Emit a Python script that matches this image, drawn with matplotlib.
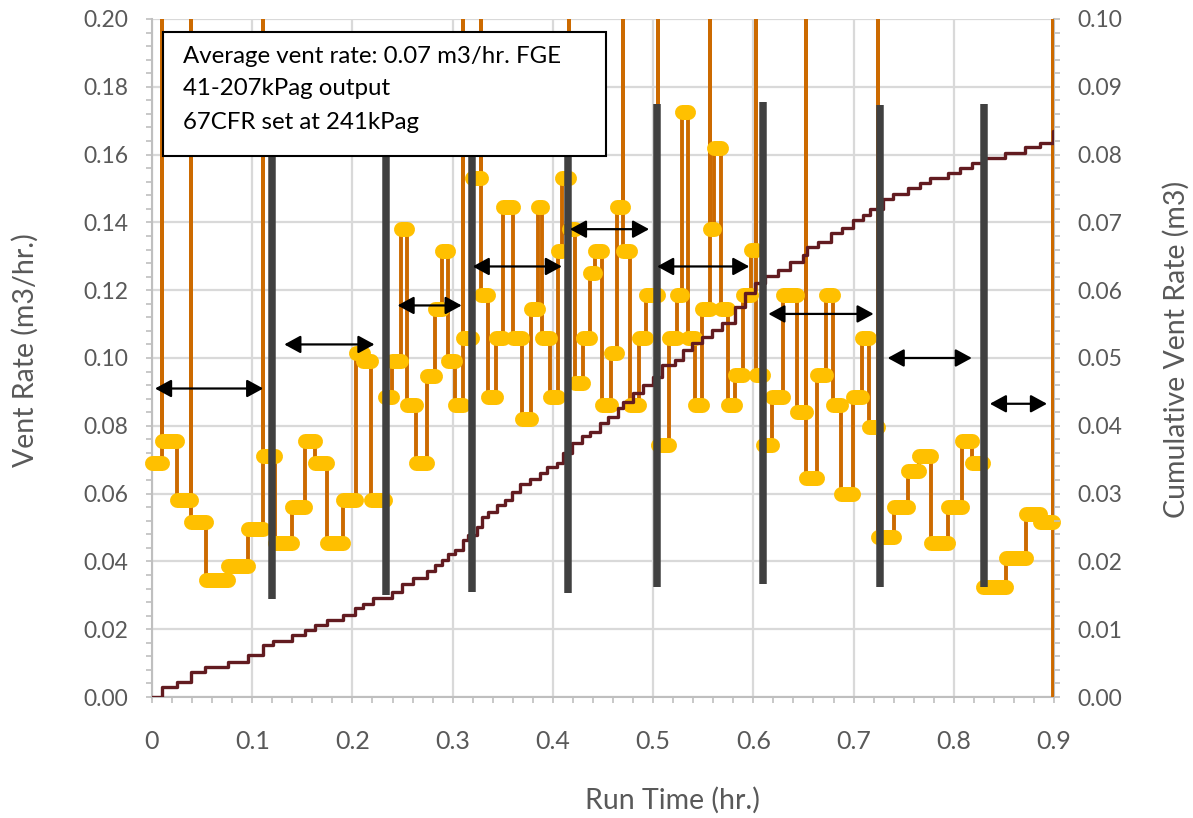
import matplotlib.pyplot as plt
import numpy as np
from matplotlib.patches import Rectangle
from matplotlib.ticker import MultipleLocator, FormatStrFormatter, FuncFormatter

plt.rcParams["font.family"] = ["Lato", "DejaVu Sans"]

# Vent rate held between successive edges (hr) at the listed level (m3/hr)
rate_edges = [
    0.000, 0.010, 0.025, 0.039, 0.054, 0.076, 0.096, 0.111, 0.123, 0.140,
    0.153, 0.163, 0.175, 0.191, 0.204, 0.211, 0.219, 0.232, 0.239, 0.248,
    0.254, 0.263, 0.274, 0.282, 0.289, 0.295, 0.302, 0.310, 0.319, 0.328,
    0.335, 0.343, 0.350, 0.360, 0.369, 0.378, 0.385, 0.389, 0.397, 0.405,
    0.409, 0.416, 0.422, 0.430, 0.437, 0.442, 0.449, 0.458, 0.464, 0.470,
    0.477, 0.486, 0.493, 0.505, 0.516, 0.524, 0.529, 0.535, 0.542, 0.549,
    0.557, 0.561, 0.568, 0.575, 0.582, 0.590, 0.598, 0.603, 0.610, 0.619,
    0.630, 0.644, 0.653, 0.664, 0.672, 0.679, 0.687, 0.699, 0.708, 0.715,
    0.724, 0.740, 0.754, 0.765, 0.777, 0.794, 0.808, 0.818, 0.829, 0.852,
    0.872, 0.886, 0.899,
]
rate_levels = [
    0.069, 0.0755, 0.058, 0.0516, 0.0345, 0.0387, 0.0496, 0.071, 0.0454, 0.056,
    0.0755, 0.069, 0.0454, 0.058, 0.1015, 0.099, 0.058, 0.0885, 0.099, 0.138,
    0.086, 0.069, 0.0947, 0.1145, 0.1316, 0.099, 0.086, 0.106, 0.153, 0.1186,
    0.0885, 0.106, 0.1445, 0.106, 0.082, 0.1145, 0.1445, 0.106, 0.0885, 0.1316,
    0.153, 0.138, 0.0926, 0.106, 0.125, 0.1316, 0.086, 0.1015, 0.1445, 0.1316,
    0.086, 0.106, 0.1186, 0.0743, 0.106, 0.1186, 0.1726, 0.106, 0.086, 0.1145,
    0.138, 0.162, 0.1145, 0.086, 0.095, 0.1186, 0.1318, 0.095, 0.0743, 0.0885,
    0.1186, 0.084, 0.0646, 0.095, 0.1186, 0.086, 0.060, 0.0885, 0.106, 0.0797,
    0.0472, 0.056, 0.0667, 0.0711, 0.0454, 0.056, 0.0755, 0.069, 0.0324, 0.041,
    0.054, 0.0516,
]
# relief events where the rate runs off the top of the scale
spike_times = [0.010, 0.039, 0.111, 0.310, 0.328, 0.416, 0.470, 0.505,
               0.557, 0.603, 0.653, 0.724, 0.899]
spike_rate = 0.30
final_rate = 0.0

# Cumulative vented volume (m3), secondary axis
cum_times = [
    0.000, 0.010, 0.025, 0.039, 0.053, 0.076, 0.096, 0.111, 0.121, 0.140,
    0.153, 0.163, 0.175, 0.191, 0.203, 0.211, 0.221, 0.239, 0.249, 0.260,
    0.274, 0.282, 0.289, 0.295, 0.302, 0.310, 0.315, 0.324, 0.329, 0.335,
    0.344, 0.352, 0.359, 0.367, 0.377, 0.387, 0.394, 0.404, 0.410, 0.419,
    0.429, 0.437, 0.447, 0.455, 0.465, 0.470, 0.480, 0.490, 0.500, 0.509,
    0.522, 0.530, 0.539, 0.549, 0.559, 0.569, 0.582, 0.592, 0.602, 0.612,
    0.625, 0.637, 0.650, 0.654, 0.665, 0.677, 0.688, 0.699, 0.709, 0.716,
    0.729, 0.739, 0.754, 0.766, 0.776, 0.794, 0.806, 0.818, 0.829, 0.851,
    0.871, 0.886, 0.899, 0.900,
]
cum_volume = [
    0.0, 0.0015, 0.0022, 0.0037, 0.0044, 0.0052, 0.0062, 0.0077, 0.0083, 0.0091,
    0.0099, 0.0106, 0.0114, 0.0121, 0.0131, 0.0137, 0.0146, 0.0155, 0.0167, 0.0176,
    0.0186, 0.0195, 0.0202, 0.0211, 0.0217, 0.0232, 0.0239, 0.0251, 0.0265, 0.0273,
    0.0283, 0.0291, 0.0302, 0.0314, 0.0322, 0.0330, 0.0339, 0.0345, 0.0360, 0.0375,
    0.0385, 0.0391, 0.0404, 0.0413, 0.0426, 0.0435, 0.0448, 0.0460, 0.0472, 0.0490,
    0.0497, 0.0512, 0.0522, 0.0531, 0.0541, 0.0552, 0.0575, 0.0596, 0.0611, 0.0621,
    0.0630, 0.0642, 0.0652, 0.0664, 0.0671, 0.0684, 0.0692, 0.0704, 0.0711, 0.0720,
    0.0735, 0.0742, 0.0751, 0.0758, 0.0765, 0.0773, 0.0780, 0.0788, 0.0795, 0.0802,
    0.0811, 0.0817, 0.0835, 0.0835,
]

# Regulator cycle markers (hr) and the rate span they cover
cycle_times = [0.120, 0.233, 0.319, 0.415, 0.504, 0.610, 0.726, 0.830]
cycle_low = [0.029, 0.030, 0.031, 0.0307, 0.0325, 0.0333, 0.0325, 0.0325]
cycle_high = [0.175, 0.175, 0.175, 0.175, 0.175, 0.1755, 0.1746, 0.175]

# Period arrows between cycles
period_start = [0.003, 0.132, 0.245, 0.320, 0.417, 0.504, 0.615, 0.734, 0.836]
period_end = [0.111, 0.222, 0.309, 0.409, 0.496, 0.596, 0.720, 0.818, 0.893]
period_rate = [0.091, 0.104, 0.1155, 0.127, 0.138, 0.127, 0.113, 0.100, 0.0865]

note_lines = [
    "Average vent rate: 0.07 m3/hr. FGE",
    "41-207kPag output",
    "67CFR set at 241kPag",
]

ORANGE = "#CC6A00"
GOLD = "#FFC000"
MAROON = "#621B20"
BAR_GREY = "#404040"
GRID = "#D9D9D9"
AXIS_GREY = "#BFBFBF"
LABEL = "#595959"


def rate_path(edges, levels, spikes, top, end_value):
    """Vertices of the vent-rate step line, with spikes pushed off scale."""
    spike_set = {round(t, 3) for t in spikes}
    xs, ys = [], []
    for i, v in enumerate(levels):
        start, end = edges[i], edges[i + 1]
        if round(start, 3) in spike_set:
            xs.append(start)
            ys.append(top)
        xs += [start, end]
        ys += [v, v]
    last = edges[-1]
    if round(last, 3) in spike_set:
        xs += [last, last]
        ys += [top, end_value]
    return xs, ys


def hold_segments(edges, levels):
    xs, ys = [], []
    for i, v in enumerate(levels):
        xs += [edges[i], edges[i + 1], np.nan]
        ys += [v, v, np.nan]
    return xs, ys


fig = plt.figure(figsize=(11.93, 8.18), dpi=100)
ax = fig.add_axes([0.1274, 0.1479, 0.7561, 0.8289])
ax2 = ax.twinx()

ax.set_xlim(0, 0.9)
ax.set_ylim(0, 0.2)
ax2.set_ylim(0, 0.1)

# grid
ax.set_axisbelow(True)
ax.grid(True, color=GRID, linewidth=1.6)

xs, ys = rate_path(rate_edges, rate_levels, spike_times, spike_rate, final_rate)
ax.plot(xs, ys, color=ORANGE, linewidth=2.8, zorder=3)

px, py = hold_segments(rate_edges, rate_levels)
ax.plot(px, py, color=GOLD, linewidth=10.8, solid_capstyle="round",
        zorder=4, clip_on=False)

ax.step(cum_times, cum_volume, where="post", color=MAROON, linewidth=2.4,
        transform=ax2.transData, zorder=4.5)

ax.vlines(cycle_times, cycle_low, cycle_high, color=BAR_GREY, linewidth=5.4,
          zorder=5)

for x0, x1, y in zip(period_start, period_end, period_rate):
    ax.annotate(
        "", xy=(x1, y), xytext=(x0, y),
        arrowprops=dict(arrowstyle="<|-|>,head_length=0.55,head_width=0.3",
                        color="black", lw=1.6, mutation_scale=18,
                        shrinkA=0, shrinkB=0),
        zorder=6,
    )

# note box
ax.add_patch(Rectangle((0.0122, 0.798), 0.491, 0.183, transform=ax.transAxes,
                       facecolor="white", edgecolor="black", linewidth=1.5,
                       zorder=7))
for y, line in zip([0.944, 0.897, 0.848], note_lines):
    ax.text(0.0344, y, line, transform=ax.transAxes, fontsize=17.3,
            va="center", ha="left", color="black", zorder=8)

# axes styling
ax.spines["top"].set_visible(False)
for side in ["left", "bottom", "right"]:
    ax.spines[side].set_color(AXIS_GREY)
    ax.spines[side].set_linewidth(1.5)
for side in ax2.spines:
    ax2.spines[side].set_visible(False)

ax.xaxis.set_major_locator(MultipleLocator(0.1))
ax.xaxis.set_minor_locator(MultipleLocator(0.02))
ax.yaxis.set_major_locator(MultipleLocator(0.02))
ax.yaxis.set_minor_locator(MultipleLocator(0.004))
ax2.yaxis.set_major_locator(MultipleLocator(0.01))
ax2.yaxis.set_minor_locator(MultipleLocator(0.002))

ax.xaxis.set_major_formatter(FuncFormatter(lambda v, _: "0" if v == 0 else f"{v:.1f}"))
ax.yaxis.set_major_formatter(FormatStrFormatter("%.2f"))
ax2.yaxis.set_major_formatter(FormatStrFormatter("%.2f"))

tick_style = dict(direction="out", color=AXIS_GREY, width=1.2, length=4,
                  labelcolor=LABEL)
ax.tick_params(axis="y", which="both", pad=13, labelsize=16.5, **tick_style)
ax.tick_params(axis="x", which="both", pad=20, labelsize=18, **tick_style)
ax2.tick_params(axis="y", which="both", pad=13, labelsize=16.5, **tick_style)

ax.set_ylabel("Vent Rate (m3/hr.)", fontsize=20.5, color=LABEL)
ax.yaxis.set_label_coords(-0.126, 0.512)
ax2.set_ylabel("Cumulative Vent Rate (m3)", fontsize=20.5, color=LABEL)
ax2.yaxis.set_label_coords(1.121, 0.512)
ax.set_xlabel("Run Time (hr.)", fontsize=20.5, color=LABEL)
ax.xaxis.set_label_coords(0.5765, -0.1327)

fig.savefig("out.png", dpi=100)
